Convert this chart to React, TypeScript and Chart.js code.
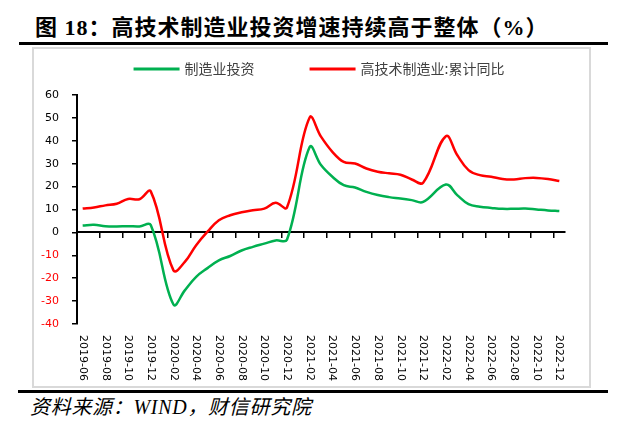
import { useEffect, useRef } from "react";
import { Chart, registerables } from "chart.js";

Chart.register(...registerables);

const months = [
  "2019-06", "2019-07", "2019-08", "2019-09", "2019-10", "2019-11", "2019-12",
  "2020-01", "2020-02", "2020-03", "2020-04", "2020-05", "2020-06", "2020-07",
  "2020-08", "2020-09", "2020-10", "2020-11", "2020-12",
  "2021-01", "2021-02", "2021-03", "2021-04", "2021-05", "2021-06", "2021-07",
  "2021-08", "2021-09", "2021-10", "2021-11", "2021-12",
  "2022-01", "2022-02", "2022-03", "2022-04", "2022-05", "2022-06", "2022-07",
  "2022-08", "2022-09", "2022-10", "2022-11", "2022-12",
];

const manufacturing = [
  3.0, 3.3, 2.7, 2.6, 2.7, 2.6, 3.2,
  null, -31.5, -25.3, -19.4, -15.6, -12.2, -10.3, -7.9, -6.3, -4.9, -3.5, -3.2,
  null, 37.3, 29.4, 24.3, 20.6, 19.6, 17.7, 16.3, 15.4, 14.8, 14.1, 13.3,
  null, 20.9, 16.3, 12.3, 11.2, 10.7, 10.3, 10.3, 10.4, 10.0, 9.6, 9.3,
];

const highTech = [
  10.4, 10.9, 11.8, 12.5, 14.6, 14.5, 17.9,
  null, -16.6, -12.9, -5.6, 0.3, 5.3, 7.5, 8.8, 9.7, 10.4, 12.9, 10.9,
  null, 50.2, 41.8, 35.2, 30.8, 30.1, 27.9, 26.5, 25.8, 25.2, 23.1, 21.7,
  null, 42.0, 33.8, 27.2, 25.0, 24.3, 23.3, 23.1, 23.7, 23.8, 23.3, 22.4,
];

const seriesNames = ["制造业投资", "高技术制造业:累计同比"];
const seriesColors = ["#00B050", "#FF0000"];
const yTicks = { min: -40, max: 60, step: 10 };
const labelStep = 2;

const title = "图 18：高技术制造业投资增速持续高于整体（%）";
const source = "资料来源：WIND，财信研究院";

const tickFont = '"DejaVu Sans", sans-serif';

const xLabelPlugin = {
  id: "xLabelsRotated",
  afterDraw(chart: any) {
    const { ctx, chartArea, scales } = chart;
    const xs = scales.x;
    ctx.save();
    ctx.font = `11px ${tickFont}`;
    ctx.fillStyle = "#000";
    ctx.textAlign = "left";
    ctx.textBaseline = "middle";
    months.forEach((m, i) => {
      if (i % labelStep !== 0) return;
      const x = xs.getPixelForValue(i);
      ctx.save();
      ctx.translate(x, chartArea.bottom + 11);
      ctx.rotate(Math.PI / 2);
      ctx.fillText(m, 0, 0);
      ctx.restore();
    });
    ctx.restore();
  },
};

const legendPlugin = {
  id: "lineLegend",
  afterDraw(chart: any) {
    const { ctx } = chart;
    ctx.save();
    ctx.font = '14px "Noto Sans CJK SC", sans-serif';
    const items = chart.data.datasets.map((ds: any) => ({
      text: ds.label,
      color: ds.borderColor,
      w: ctx.measureText(ds.label).width,
    }));
    const lineLen = 46;
    const gapText = 5;
    const gapItem = 55;
    const total =
      items.reduce((s: number, it: any) => s + lineLen + gapText + it.w, 0) +
      gapItem * (items.length - 1);
    let x = 285 - total / 2;
    const y = 20;
    items.forEach((it: any) => {
      ctx.strokeStyle = it.color;
      ctx.lineWidth = 3;
      ctx.beginPath();
      ctx.moveTo(x, y);
      ctx.lineTo(x + lineLen, y);
      ctx.stroke();
      ctx.fillStyle = "#404040";
      ctx.textBaseline = "middle";
      ctx.textAlign = "left";
      ctx.fillText(it.text, x + lineLen + gapText, y);
      x += lineLen + gapText + it.w + gapItem;
    });
    ctx.restore();
  },
};

export default function App() {
  const canvasRef = useRef<HTMLCanvasElement | null>(null);

  useEffect(() => {
    const canvas = canvasRef.current;
    if (!canvas) return;
    const boundaries: number[] = [];
    for (let i = labelStep; i < months.length; i += labelStep) boundaries.push(i - 0.5);

    const toPoints = (arr: (number | null)[]) => months.map((_, i) => ({ x: i, y: arr[i] }));

    const chart = new Chart(canvas, {
      type: "line",
      data: {
        datasets: [manufacturing, highTech].map((arr, k) => ({
          label: seriesNames[k],
          data: toPoints(arr) as any,
          borderColor: seriesColors[k],
          backgroundColor: seriesColors[k],
          borderWidth: 2.5,
          pointRadius: 0,
          tension: 0.4,
          spanGaps: true,
          fill: false,
        })),
      },
      options: {
        responsive: false,
        animation: false,
        layout: { padding: { top: 46, right: 24, bottom: 62, left: 0 } },
        plugins: { legend: { display: false }, tooltip: { enabled: false } },
        scales: {
          x: {
            type: "linear",
            position: { y: 0 } as any,
            min: -0.5,
            max: months.length - 0.5,
            afterBuildTicks: (s: any) => {
              s.ticks = boundaries.map((v) => ({ value: v }));
            },
            ticks: { display: false },
            grid: { drawOnChartArea: false, drawTicks: true, tickLength: 5, color: "#000", lineWidth: 1.5 },
            border: { display: true, color: "#000", width: 2 },
          },
          y: {
            min: yTicks.min,
            max: yTicks.max,
            ticks: {
              stepSize: yTicks.step,
              color: (c: any) => (c.tick && c.tick.value < 0 ? "#FF0000" : "#000"),
              font: { family: tickFont, size: 11 },
              padding: 13,
            },
            grid: { drawOnChartArea: false, drawTicks: true, tickLength: 5, color: "#000", lineWidth: 1.5 },
            border: { display: true, color: "#000", width: 2 },
            afterFit: (s: any) => {
              s.width = 43;
            },
          },
        },
      },
      plugins: [xLabelPlugin, legendPlugin],
    });
    return () => chart.destroy();
  }, []);

  return (
    <div style={{ position: "relative", width: 608, height: 412, background: "#fff" }}>
      <div
        style={{
          position: "absolute",
          left: 27,
          top: 8,
          fontFamily: '"Liberation Serif", "Noto Sans CJK SC", serif',
          fontWeight: "bold",
          fontSize: 22,
          lineHeight: "24px",
          letterSpacing: 1,
          whiteSpace: "nowrap",
          color: "#000",
        }}
      >
        {title}
      </div>
      <div style={{ position: "absolute", left: 11, top: 34, width: 589, height: 3, background: "#000" }} />
      <div
        style={{
          position: "absolute",
          left: 24,
          top: 39,
          width: 559,
          height: 341,
          border: "2px solid #d9d9d9",
          boxSizing: "border-box",
        }}
      />
      <canvas
        ref={canvasRef}
        width={555}
        height={337}
        style={{ position: "absolute", left: 26, top: 41, width: 555, height: 337 }}
      />
      <div style={{ position: "absolute", left: 10, top: 382, width: 590, height: 3, background: "#000" }} />
      <div
        style={{
          position: "absolute",
          left: 22,
          top: 388,
          fontFamily: '"Liberation Serif", "Noto Sans CJK SC", serif',
          fontStyle: "italic",
          fontSize: 20,
          lineHeight: "22px",
          letterSpacing: 0.7,
          whiteSpace: "nowrap",
          color: "#000",
        }}
      >
        {source}
      </div>
    </div>
  );
}
